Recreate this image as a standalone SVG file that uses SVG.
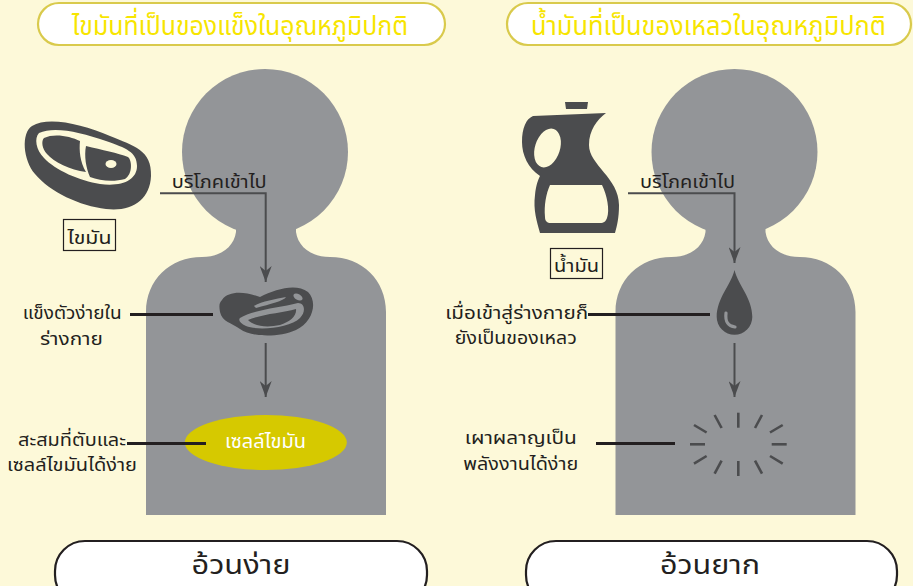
<svg xmlns="http://www.w3.org/2000/svg" width="913" height="586" viewBox="0 0 913 586">
  <style>
    .th { font-family: "Noto Sans Thai", "Noto Sans", "DejaVu Sans", sans-serif; }
    .lbl { font-size: 18px; fill: #231f20; text-anchor: middle; }
    .head { font-size: 27px; fill: #f7e500; text-anchor: middle; }
    .foot { font-size: 27px; fill: #231f20; text-anchor: middle; }
    .body { fill: #939598; }
    .icon { fill: #4b4c4e; }
    .cream { fill: #fdf9d9; }
    .leader { stroke: #231f20; stroke-width: 3; fill: none; }
    .flow { stroke: #4b4c4e; stroke-width: 2; fill: none; }
    .ray { stroke: #4b4c4e; stroke-width: 2.6; stroke-linecap: butt; }
    .pillTop { fill: #ffffff; stroke: #d9ca4c; stroke-width: 2.2; }
    .pillBot { fill: #ffffff; stroke: #231f20; stroke-width: 2.2; }
    .tag { fill: none; stroke: #231f20; stroke-width: 1.2; }
  </style>
  <defs>
    <marker id="ah" viewBox="0 0 16 12" refX="16" refY="6" markerWidth="16" markerHeight="12" markerUnits="userSpaceOnUse" orient="auto">
      <path d="M0,0 L16,6 L0,12 L5,6 Z" fill="#4b4c4e"/>
    </marker>
    <!-- person silhouette: head, neck and torso -->
    <g id="person">
      <circle cx="265" cy="152" r="83"/>
      <path d="M236,215 L296,215 L296,232 C298,246 310,257 330,257 C362,257 386,280 386,312 L386,515 L146,515 L146,312 C146,280 170,257 202,257 C222,257 234,246 236,232 Z"/>
    </g>
  </defs>

  <!-- background -->
  <rect x="0" y="0" width="913" height="586" fill="#fdf9d9"/>

  <!-- silhouettes -->
  <g id="person-left" class="body"><use href="#person"/></g>
  <g id="person-right" class="body"><use href="#person" transform="translate(469.5,0)"/></g>

  <!-- header pills -->
  <g id="title-solid">
    <rect class="pillTop" x="38" y="3" width="407" height="42" rx="21"/>
    <text class="th head" x="240" y="35" textLength="336" lengthAdjust="spacingAndGlyphs">ไขมันที่เป็นของแข็งในอุณหภูมิปกติ</text>
  </g>
  <g id="title-liquid">
    <rect class="pillTop" x="507" y="3" width="404" height="42" rx="21"/>
    <text class="th head" x="708.5" y="35" textLength="355" lengthAdjust="spacingAndGlyphs">น้ำมันที่เป็นของเหลวในอุณหภูมิปกติ</text>
  </g>

  <!-- steak icon -->
  <g id="steak">
    <path class="icon" d="M32,126 C48,116 82,124 110,136 C134,146 152,150 151,176 C150,200 132,212 106,209 C80,206 50,192 35,174 C23,160 21,133 32,126 Z"/>
    <path class="cream" d="M39,133 C54,126 80,132 106,141 C126,148 137,152 137,166 C137,180 122,187 100,184 C80,181 55,170 44,158 C36,150 34,138 39,133 Z"/>
    <path class="icon" d="M44,138 C54,133 70,136 80,141 C79,150 80,162 86,172 C70,170 54,162 47,154 C42,149 41,141 44,138 Z"/>
    <path class="icon" d="M86,146 C102,150 118,153 128,157 C132,160 133,174 125,179 C114,182 100,181 90,177 C86,168 84,156 86,146 Z"/>
    <ellipse class="cream" cx="111" cy="164" rx="5.5" ry="4"/>
    <rect class="tag" x="63.5" y="219.5" width="52" height="31"/>
    <text class="th lbl" x="89.5" y="244" textLength="44" lengthAdjust="spacingAndGlyphs">ไขมัน</text>
  </g>

  <!-- oil jug icon -->
  <g id="jug">
    <path class="icon" d="M565,102 L588,102 L587,109 L566,109 Z"/>
    <path class="icon" d="M533,116 L606,113 C597,120 589,130 589,145 C589,165 619,178 619,205 C619,218 617,226 615,233 L540,233 C537,222 533,210 535,195 C536,185 538,180 540,176 C528,168 522,155 522,142 C522,128 526,119 533,116 Z"/>
    <ellipse class="cream" cx="547.5" cy="148" rx="12.5" ry="20" transform="rotate(18 547.5 148)"/>
    <path class="cream" d="M550,185 L602,185 C607,195 610,210 607,218 C606,221 604,223 600,223 L551,223 C547,223 545,221 545,217 C544,205 546,194 550,185 Z"/>
    <rect class="tag" x="550.5" y="248.5" width="52" height="30"/>
    <text class="th lbl" x="576.5" y="272" textLength="45" lengthAdjust="spacingAndGlyphs">น้ำมัน</text>
  </g>

  <!-- solidified fat lump -->
  <g id="fat-lump">
    <path class="icon" d="M222,300 C229,290 246,292 260,297 C276,289 296,283 308,292 C318,302 313,322 296,330 C278,338 251,337 240,329 C232,323 222,322 220,312 C219,306 219,303 222,300 Z"/>
    <path class="body" d="M240,318 C252,310 278,308 298,303 C305,303 306,312 300,318 C290,328 258,331 246,326 C240,323 238,320 240,318 Z"/>
    <path class="icon" d="M248,320 C262,314 282,313 296,309 C297,316 290,322 280,325 C266,328 254,326 248,320 Z"/>
    <path class="body" d="M254,306 C262,301 276,299 286,297 C284,301 270,304 256,308 Z"/>
    <ellipse class="body" cx="298" cy="297" rx="5" ry="3" transform="rotate(30 298 297)"/>
  </g>

  <!-- fat cell -->
  <g id="fat-cell">
    <ellipse cx="265.8" cy="442.5" rx="81" ry="27.5" fill="#d6c900"/>
    <text class="th" x="265.5" y="448" font-size="19" fill="#ffffff" text-anchor="middle" textLength="81" lengthAdjust="spacingAndGlyphs">เซลล์ไขมัน</text>
  </g>

  <!-- oil drop -->
  <g id="oil-drop">
    <path class="icon" d="M734.5,270 C738,285 752.3,298 752.3,317 A17.8,17.8 0 0 1 716.7,317 C716.7,298 731,285 734.5,270 Z"/>
    <path d="M726,313 C725,322 728,326 735,327" stroke="#939598" stroke-width="3.2" fill="none" stroke-linecap="round"/>
  </g>

  <!-- energy burst -->
  <g id="burst">
    <line class="ray" x1="738.3" y1="412.7" x2="738.3" y2="427.7"/>
    <line class="ray" x1="738.3" y1="461" x2="738.3" y2="476"/>
    <line class="ray" x1="690" y1="444.3" x2="705" y2="444.3"/>
    <line class="ray" x1="771.7" y1="444.3" x2="786.7" y2="444.3"/>
    <line class="ray" x1="762" y1="415" x2="755" y2="428"/>
    <line class="ray" x1="714.6" y1="415" x2="721.6" y2="428"/>
    <line class="ray" x1="762" y1="473.6" x2="755" y2="460.6"/>
    <line class="ray" x1="714.6" y1="473.6" x2="721.6" y2="460.6"/>
    <line class="ray" x1="782.7" y1="425" x2="770" y2="432.5"/>
    <line class="ray" x1="694" y1="425" x2="706.6" y2="432.5"/>
    <line class="ray" x1="782.7" y1="463.6" x2="770" y2="456"/>
    <line class="ray" x1="694" y1="463.6" x2="706.6" y2="456"/>
  </g>

  <!-- connectors -->
  <g id="connectors">
    <path class="flow" d="M160,193.3 L265.7,193.3 L265.7,282" marker-end="url(#ah)"/>
    <path class="flow" d="M265.7,343 L265.7,397" marker-end="url(#ah)"/>
    <path class="flow" d="M628,193.3 L734.5,193.3 L734.5,263" marker-end="url(#ah)"/>
    <path class="flow" d="M734.5,343 L734.5,397" marker-end="url(#ah)"/>
    <line class="leader" x1="130" y1="314.5" x2="213" y2="314.5"/>
    <line class="leader" x1="127" y1="443.5" x2="206" y2="443.5"/>
    <line class="leader" x1="588" y1="314.5" x2="710" y2="314.5"/>
    <line class="leader" x1="596" y1="443.5" x2="675" y2="443.5"/>
  </g>

  <!-- labels -->
  <g id="labels">
    <text class="th lbl" x="219.2" y="188" textLength="95" lengthAdjust="spacingAndGlyphs">บริโภคเข้าไป</text>
    <text class="th lbl" x="687.5" y="188" textLength="95" lengthAdjust="spacingAndGlyphs">บริโภคเข้าไป</text>
    <text class="th lbl" x="72.2" y="319" textLength="99" lengthAdjust="spacingAndGlyphs">แข็งตัวง่ายใน</text>
    <text class="th lbl" x="71.4" y="345" textLength="63" lengthAdjust="spacingAndGlyphs">ร่างกาย</text>
    <text class="th lbl" x="72" y="446" textLength="108" lengthAdjust="spacingAndGlyphs">สะสมที่ตับและ</text>
    <text class="th lbl" x="72" y="471" textLength="130" lengthAdjust="spacingAndGlyphs">เซลล์ไขมันได้ง่าย</text>
    <text class="th lbl" x="516.7" y="319" textLength="143" lengthAdjust="spacingAndGlyphs">เมื่อเข้าสู่ร่างกายก็</text>
    <text class="th lbl" x="515.8" y="344" textLength="122" lengthAdjust="spacingAndGlyphs">ยังเป็นของเหลว</text>
    <text class="th lbl" x="520.8" y="444" textLength="112" lengthAdjust="spacingAndGlyphs">เผาผลาญเป็น</text>
    <text class="th lbl" x="520.8" y="470" textLength="115" lengthAdjust="spacingAndGlyphs">พลังงานได้ง่าย</text>
  </g>

  <!-- outcome pills -->
  <g id="result-easy">
    <rect class="pillBot" x="55" y="541" width="372" height="64" rx="30"/>
    <text class="th foot" x="241" y="574" textLength="99" lengthAdjust="spacingAndGlyphs">อ้วนง่าย</text>
  </g>
  <g id="result-hard">
    <rect class="pillBot" x="526" y="541" width="371" height="64" rx="30"/>
    <text class="th foot" x="710" y="574" textLength="100" lengthAdjust="spacingAndGlyphs">อ้วนยาก</text>
  </g>
</svg>
